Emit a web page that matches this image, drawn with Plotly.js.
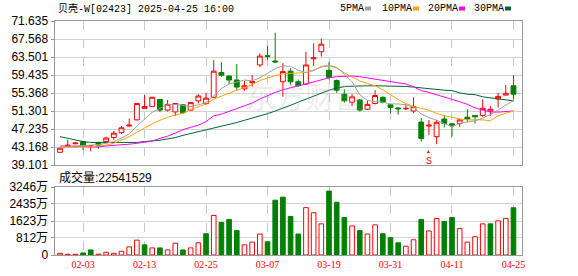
<!DOCTYPE html>
<html><head><meta charset="utf-8">
<script src="https://cdn.plot.ly/plotly-3.0.1.min.js"></script>
<style>html,body{margin:0;padding:0;background:#fff;overflow:hidden}#chart{width:578px;height:276px}</style>
</head><body><div id="chart"></div>
<script>
const dates = ['2025-01-24','2025-01-27','2025-01-28','2025-02-03','2025-02-04','2025-02-05','2025-02-06','2025-02-07','2025-02-10','2025-02-11','2025-02-12','2025-02-13','2025-02-14','2025-02-17','2025-02-18','2025-02-19','2025-02-20','2025-02-21','2025-02-24','2025-02-25','2025-02-26','2025-02-27','2025-02-28','2025-03-03','2025-03-04','2025-03-05','2025-03-06','2025-03-07','2025-03-10','2025-03-11','2025-03-12','2025-03-13','2025-03-14','2025-03-17','2025-03-18','2025-03-19','2025-03-20','2025-03-21','2025-03-24','2025-03-25','2025-03-26','2025-03-27','2025-03-28','2025-03-31','2025-04-01','2025-04-02','2025-04-03','2025-04-07','2025-04-08','2025-04-09','2025-04-10','2025-04-11','2025-04-14','2025-04-15','2025-04-16','2025-04-17','2025-04-22','2025-04-23','2025-04-24','2025-04-25'];
const openP  = [41.97,43.4,43.9,44.4,43.3,44.2,44.4,45.3,46.4,47.9,49.3,51.9,52.3,53.9,51.5,51.1,52.7,51.5,53.6,53.0,54.4,60.0,59.2,58.3,56.3,57.7,61.7,63.8,62.6,57.9,60.3,57.9,57.4,63.1,64.7,60.5,58.2,55.1,53.3,53.8,51.7,53.0,54.4,52.7,52.0,51.8,51.3,48.8,47.9,45.5,49.5,48.4,48.5,49.9,50.3,50.3,51.3,54.0,54.9,57.0];
const highP  = [43.0,44.8,44.2,44.5,43.6,44.3,45.5,46.8,47.9,49.6,53.1,54.9,54.5,54.0,53.8,53.1,52.8,53.4,55.1,55.4,62.8,62.3,59.3,61.9,58.1,59.4,64.3,66.0,69.0,62.1,60.95,58.4,64.7,66.6,67.7,62.4,58.4,56.2,55.1,54.0,53.6,56.0,54.6,52.7,52.1,52.9,54.4,49.7,49.3,49.3,50.4,48.5,49.6,51.7,50.3,53.95,52.4,55.4,57.2,59.4];
const lowP   = [41.9,43.3,43.8,42.5,42.2,42.7,44.0,44.8,46.1,47.8,49.2,51.8,52.2,51.1,51.2,50.2,50.7,51.3,53.0,52.7,54.2,59.0,57.4,55.9,55.9,56.8,61.2,62.8,62.1,54.5,57.2,56.8,57.2,61.5,63.6,58.4,55.4,53.2,52.4,51.2,51.5,52.8,53.0,50.8,50.5,51.5,50.8,44.4,45.9,43.8,47.6,45.5,47.7,48.9,48.5,50.0,50.2,52.1,54.8,53.9];
const closeP = [42.9,43.55,44.05,43.5,43.4,43.6,45.2,46.3,47.5,48.1,53.0,52.3,54.4,51.5,52.8,53.0,50.9,53.2,54.7,54.2,60.3,59.4,58.3,56.7,57.0,57.9,63.7,63.6,62.4,60.2,57.9,57.0,61.7,63.3,66.4,58.9,56.0,53.6,54.5,51.5,52.8,54.8,53.3,52.1,51.8,51.9,52.3,45.1,48.1,48.75,48.5,48.1,49.3,49.5,50.0,51.9,51.7,54.6,55.3,55.1];
// volume in 万股
const volume = [80,35,35,100,242,40,129,81,178,388,711,485,339,339,242,565,242,339,581,1017,1890,1550,1696,1163,485,614,1001,630,2616,2762,1841,1001,2261,2019,1486,3052,2519,1793,1389,1163,1001,1437,1017,824,581,420,727,1696,1147,1744,1599,1793,1260,614,872,1486,1486,1631,1744,2254.15];
const ma5  = [43.2,43.3,43.5,43.6,43.6,43.7,44.0,44.4,45.2,46.1,47.9,49.4,51.0,51.9,52.7,52.8,52.5,52.3,52.7,53.2,54.7,56.4,57.4,57.9,58.3,58.1,58.8,59.8,60.9,61.5,61.4,60.5,60.0,60.4,61.4,61.6,61.2,59.6,57.9,55.0,53.7,53.4,53.3,52.9,52.9,52.7,52.2,50.6,49.8,49.2,48.5,47.7,48.5,48.8,49.1,49.7,50.5,51.5,52.7,53.7];
const ma10 = [43.0,43.0,43.1,43.2,43.2,43.4,43.6,44.0,44.8,45.5,46.5,47.5,48.4,49.2,49.9,50.4,50.8,51.6,52.3,52.9,54.0,54.6,55.3,56.0,56.6,57.2,58.2,58.8,59.3,59.7,59.8,59.8,60.0,60.6,61.2,61.5,61.0,59.9,59.0,58.1,57.5,57.0,56.1,54.9,53.9,53.0,52.3,51.9,51.5,50.8,50.2,49.9,49.5,49.3,49.3,49.3,49.1,50.2,50.8,51.3];
const ma20 = [43.4,43.4,43.4,43.3,43.2,43.2,43.4,43.5,43.6,43.8,44.0,44.2,44.5,45.1,45.6,46.3,47.1,47.6,48.1,48.9,50.2,50.6,51.2,51.8,52.4,53.1,54.0,54.8,55.5,56.1,56.6,57.0,57.4,57.9,58.3,58.8,59.05,59.2,59.2,59.05,58.8,58.5,58.3,58.0,57.7,57.4,56.8,55.9,55.5,55.0,54.5,54.0,53.4,52.8,52.0,51.5,51.1,51.05,51.1,51.3];
const ma30 = [45.5,45.1,44.7,44.4,44.2,44.2,44.2,44.2,44.2,44.2,44.2,44.4,44.5,44.7,45.0,45.3,45.8,46.2,46.6,47.0,47.5,47.9,48.3,48.7,49.2,49.7,50.1,50.7,51.3,51.9,52.6,53.3,54.0,54.7,55.4,56.0,56.5,56.8,56.9,57.0,57.0,57.0,57.0,56.95,56.9,56.85,56.7,56.5,56.4,56.2,56.0,55.9,55.4,55.1,55.0,54.5,54.3,54.0,53.8,53.6];
const priceTicks = [39.101,43.168,47.235,51.301,55.368,59.435,63.501,67.568,71.635];
const volTicks = [0,812,1623,2435,3246];
const xLabelDates = ['2025-02-03','2025-02-13','2025-02-25','2025-03-07','2025-03-19','2025-03-31','2025-04-11','2025-04-25'];
const stockName = '贝壳-W[02423] 2025-04-25 16:00';
const lastVolume = 22541529;
const signalDate = '2025-04-08';

const idx = dates.map((d,i)=>i);
const tickIdx = xLabelDates.map(d=>dates.indexOf(d));
const tickTxt = xLabelDates.map(d=>d.slice(5));
const RED='#ff0000', GREEN='#008000';
const volUp = closeP.map((c,i)=> i===0 ? c>=openP[i] : c>closeP[i-1]);

const traces = [
 {type:'candlestick', x:idx, open:openP, high:highP, low:lowP, close:closeP, xaxis:'x', yaxis:'y',
  increasing:{line:{color:RED,width:1}, fillcolor:'#ffffff'},
  decreasing:{line:{color:GREEN,width:1}, fillcolor:GREEN},
  whiskerwidth:0, hoverinfo:'none', showlegend:false},
 {type:'scatter', mode:'lines', x:idx, y:ma30, line:{color:'#006633',width:1}, xaxis:'x', yaxis:'y', hoverinfo:'none', showlegend:false},
 {type:'scatter', mode:'lines', x:idx, y:ma20, line:{color:'#ff00ff',width:1}, xaxis:'x', yaxis:'y', hoverinfo:'none', showlegend:false},
 {type:'scatter', mode:'lines', x:idx, y:ma10, line:{color:'#ffa500',width:1}, xaxis:'x', yaxis:'y', hoverinfo:'none', showlegend:false},
 {type:'scatter', mode:'lines', x:idx, y:ma5, line:{color:'#a0a0a0',width:1}, xaxis:'x', yaxis:'y', hoverinfo:'none', showlegend:false},
 {type:'bar', x:idx, y:volume, xaxis:'x2', yaxis:'y2', width:0.6,
  marker:{color:volUp.map(u=>u?'#ffffff':GREEN), line:{color:volUp.map(u=>u?RED:GREEN), width:1}},
  hoverinfo:'none', showlegend:false}
];

const W=578,H=276;
const xd=[54.5/W, 522/W];
const xr=[-0.716, 60.11];
const frame={showline:true, mirror:true, linecolor:'#999999', linewidth:1, zeroline:false};
const yfont={family:'Liberation Sans, Arial, Noto Sans CJK SC, sans-serif', size:12, color:'#000000'};
const py = v=>1-v/H;

const layout = {
 width:W, height:H, margin:{l:0,r:0,t:0,b:0}, paper_bgcolor:'#fff', plot_bgcolor:'#fff',
 showlegend:false, boxgap:0.3, boxgroupgap:0.1, bargap:0,
 xaxis:Object.assign({domain:xd, range:xr, anchor:'y', tickmode:'array', tickvals:tickIdx, ticktext:tickTxt, showticklabels:false,
   showgrid:true, gridcolor:'#c8c8c8', griddash:'dash', gridwidth:1, ticks:'', rangeslider:{visible:false}, fixedrange:true}, frame),
 yaxis:Object.assign({domain:[py(165),py(21)], range:[priceTicks[0],priceTicks[priceTicks.length-1]], anchor:'x', tickmode:'array',
   tickvals:priceTicks, ticktext:priceTicks.map(v=>v.toFixed(3)), showgrid:true, gridcolor:'#d4d4d4', gridwidth:1,
   ticks:'outside', ticklen:3, tickcolor:'#999999', tickfont:yfont, fixedrange:true}, frame),
 xaxis2:Object.assign({domain:xd, range:xr, anchor:'y2', tickmode:'array', tickvals:tickIdx, ticktext:tickTxt,
   showgrid:true, gridcolor:'#c8c8c8', griddash:'dash', gridwidth:1, ticks:'',
   tickfont:{family:'Liberation Serif, serif', size:10, color:RED}, fixedrange:true}, frame),
 yaxis2:Object.assign({domain:[py(255),py(187)], range:[0,volTicks[volTicks.length-1]], anchor:'x2', tickmode:'array',
   tickvals:volTicks, ticktext:volTicks.map(v=>v===0?'0':v+'万'), showgrid:true, gridcolor:'#d4d4d4', gridwidth:1,
   ticks:'outside', ticklen:3, tickcolor:'#999999', tickfont:yfont, fixedrange:true}, frame),
 annotations:[
  {xref:'paper', yref:'paper', x:305/W, y:py(95), text:'东方财富', showarrow:false,
   font:{family:'Noto Sans CJK SC', size:30, color:'rgba(170,170,170,0.22)'}, xanchor:'center', yanchor:'middle'},
  {xref:'paper', yref:'paper', x:56/W, y:py(8.5), text:stockName, showarrow:false, xanchor:'left', yanchor:'middle',
   font:{family:'Liberation Mono, Noto Sans CJK SC, monospace', size:10, color:'#000'}},
  {xref:'paper', yref:'paper', x:57/W, y:py(177.5), text:'成交量:'+lastVolume, showarrow:false, xanchor:'left', yanchor:'middle',
   font:{family:'Liberation Sans, Noto Sans CJK SC, sans-serif', size:12, color:'#000'}},
  {xref:'x', yref:'y', x:dates.indexOf(signalDate), y:42.2, text:'▲', showarrow:false, xanchor:'center', yanchor:'middle',
   font:{size:5, color:RED}},
  {xref:'x', yref:'y', x:dates.indexOf(signalDate), y:39.95, text:'S', showarrow:false, xanchor:'center', yanchor:'middle',
   font:{family:'Liberation Mono, monospace', size:10, color:RED}}
 ],
 shapes:[]
};
const legendItems=[['5PMA','#a0a0a0',338],['10PMA','#ffa500',380],['20PMA','#ff00ff',426],['30PMA','#006633',472]];
legendItems.forEach(([t,c,x])=>{
  const w=t.length*6;
  layout.annotations.push({xref:'paper', yref:'paper', x:x/W, y:py(8.5), text:t, showarrow:false, xanchor:'left', yanchor:'middle',
    font:{family:'Liberation Mono, monospace', size:10, color:'#000'}});
  layout.shapes.push({type:'rect', xref:'paper', yref:'paper', x0:(x+w+3)/W, x1:(x+w+9)/W, y0:py(10.5), y1:py(6.5),
    fillcolor:c, line:{width:0}});
});
Plotly.newPlot('chart', traces, layout, {staticPlot:true, displayModeBar:false});
</script></body></html>
